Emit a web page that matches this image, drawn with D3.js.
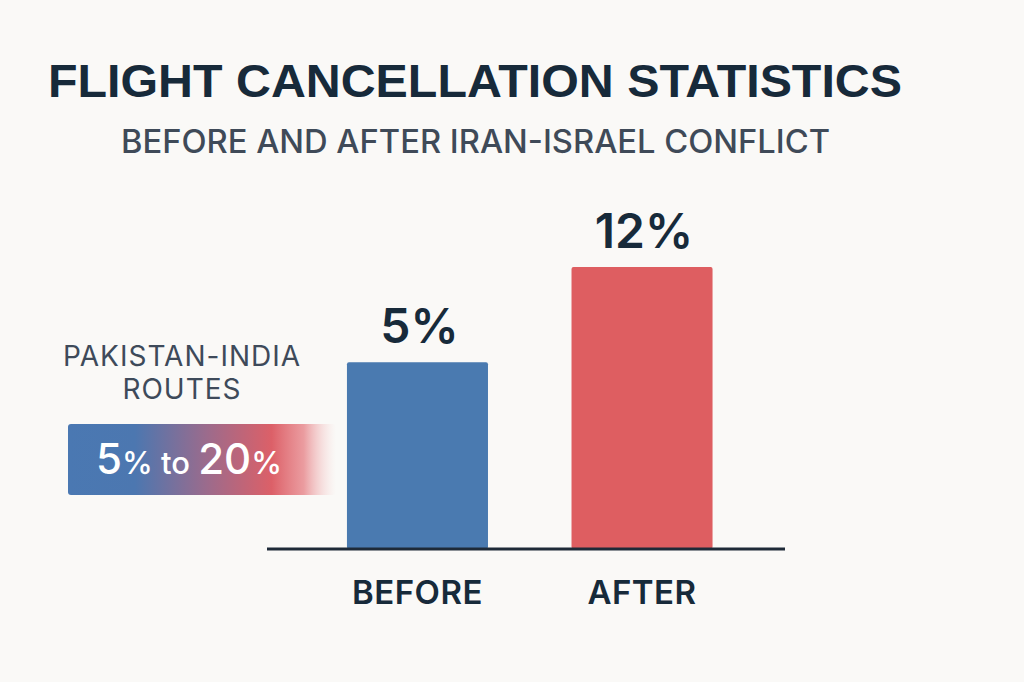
<!DOCTYPE html>
<html>
<head>
<meta charset="utf-8">
<script src="https://cdn.jsdelivr.net/npm/d3@7"></script>
<style>
  body { margin: 0; background: #faf9f7; }
  svg { display: block; }
</style>
</head>
<body>
<svg id="chart" width="1024" height="682"></svg>
<script>
// data
const periods = ["BEFORE", "AFTER"];
const cancelRates = [5, 12];
const barColors = ["#4a7ab0", "#de5e61"];
const routeLabel = ["PAKISTAN-INDIA", "ROUTES"];
const routeRange = [5, 20];

const svg = d3.select("#chart");
const W = 1024, H = 682;
const baseY = 549;

svg.append("rect").attr("width", W).attr("height", H).attr("fill", "#faf9f7");

// title
svg.append("text")
  .text("FLIGHT CANCELLATION STATISTICS")
  .attr("x", 48).attr("y", 97)
  .attr("textLength", 854).attr("lengthAdjust", "spacingAndGlyphs")
  .style("font-family", "'Liberation Sans', Arial, sans-serif")
  .style("font-weight", "700")
  .style("font-size", "47px")
  .attr("fill", "#172a3a");

svg.append("text")
  .text("BEFORE AND AFTER IRAN-ISRAEL CONFLICT")
  .attr("x", 121).attr("y", 153)
  .attr("textLength", 709).attr("lengthAdjust", "spacingAndGlyphs")
  .style("font-family", "Inter, 'Noto Sans', sans-serif")
  .style("font-weight", "500")
  .style("font-size", "32px")
  .attr("fill", "#3f4a58");

// scales
let x = d3.scaleBand()
  .domain(periods)
  .range([324.5, 735])
  .paddingInner(0.372)
  .paddingOuter(0.1);

// picture bars are not linear in value, a power scale follows them
let y = d3.scalePow()
  .exponent(0.47)
  .domain([0, 12])
  .range([baseY, 267]);

let rows = periods.map((p, i) => ({ period: p, value: cancelRates[i], color: barColors[i] }));

svg.append("g").selectAll("rect")
  .data(rows)
  .join("rect")
  .attr("x", d => x(d.period))
  .attr("y", d => y(d.value))
  .attr("width", x.bandwidth())
  .attr("height", d => baseY - y(d.value))
  .attr("rx", 2)
  .attr("fill", d => d.color);

svg.append("g").selectAll("text")
  .data(rows)
  .join("text")
  .text(d => d.value + "%")
  .attr("x", d => x(d.period) + x.bandwidth() / 2 + 2)
  .attr("y", d => y(d.value) - 19)
  .attr("text-anchor", "middle")
  .style("font-family", "Inter, 'Noto Sans', sans-serif")
  .style("font-weight", "600")
  .style("font-size", "48px")
  .attr("fill", "#172a3a");

// baseline
svg.append("line")
  .attr("x1", 267).attr("x2", 785)
  .attr("y1", baseY).attr("y2", baseY)
  .attr("stroke", "#1e2a38")
  .attr("stroke-width", 3);

svg.append("g").selectAll("text")
  .data(periods)
  .join("text")
  .text(d => d)
  .attr("x", d => x(d) + x.bandwidth() / 2)
  .attr("y", 604)
  .attr("text-anchor", "middle")
  .style("font-family", "Inter, 'Noto Sans', sans-serif")
  .style("font-weight", "600")
  .style("font-size", "33px")
  .style("letter-spacing", "0.5px")
  .attr("fill", "#172a3a");

// left annotation
svg.append("g").selectAll("text")
  .data(routeLabel)
  .join("text")
  .text(d => d)
  .attr("x", 182)
  .attr("y", (d, i) => 366 + i * 33)
  .attr("text-anchor", "middle")
  .style("font-family", "Inter, 'Noto Sans', sans-serif")
  .style("font-weight", "400")
  .style("font-size", "28px")
  .style("letter-spacing", "1px")
  .attr("fill", "#3e4a5a");

let defs = svg.append("defs");
let grad = defs.append("linearGradient")
  .attr("id", "routeGrad")
  .attr("x1", "0%").attr("x2", "100%");
[
  { o: "0%", c: "#4a78b2", a: 1 },
  { o: "25%", c: "#4c77b0", a: 1 },
  { o: "52%", c: "#9c6b8c", a: 1 },
  { o: "76%", c: "#dc6068", a: 1 },
  { o: "88%", c: "#e4747a", a: 0.7 },
  { o: "100%", c: "#f4c4c4", a: 0 }
].forEach(s => grad.append("stop")
  .attr("offset", s.o).attr("stop-color", s.c).attr("stop-opacity", s.a));

svg.append("rect")
  .attr("x", 68).attr("y", 424)
  .attr("width", 268).attr("height", 71)
  .attr("rx", 3)
  .attr("fill", "url(#routeGrad)");

let rangeText = svg.append("text")
  .attr("x", 189).attr("y", 474)
  .attr("text-anchor", "middle")
  .style("font-family", "Inter, 'Noto Sans', sans-serif")
  .style("font-weight", "500")
  .attr("fill", "#ffffff");
rangeText.append("tspan").text(routeRange[0]).style("font-size", "42px");
rangeText.append("tspan").text("%").style("font-size", "31px");
rangeText.append("tspan").text(" to ").style("font-size", "31px");
rangeText.append("tspan").text(routeRange[1]).style("font-size", "42px");
rangeText.append("tspan").text("%").style("font-size", "31px");
</script>
</body>
</html>
